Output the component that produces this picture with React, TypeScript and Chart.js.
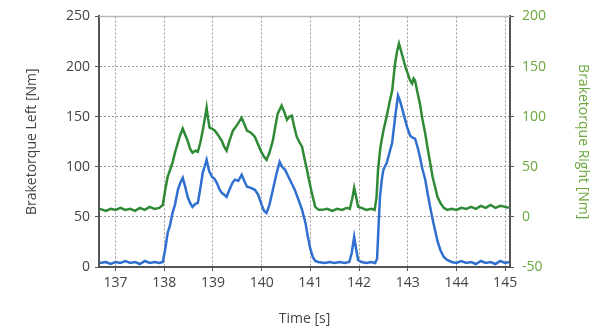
import React, { useEffect, useRef } from "react";
import { Chart, registerables } from "chart.js";

Chart.register(...registerables);

const xTicks = [137, 138, 139, 140, 141, 142, 143, 144, 145];

const leftTime = [
  136.68, 136.8, 136.9, 137.0, 137.1, 137.2, 137.3, 137.4, 137.5, 137.6, 137.7, 137.8, 137.9, 137.97,
  138.02, 138.07, 138.12, 138.17, 138.22, 138.28, 138.33, 138.38, 138.43, 138.48, 138.53, 138.58, 138.64, 138.69,
  138.74, 138.79, 138.84, 138.87, 138.92, 138.98, 139.03, 139.08, 139.13, 139.18, 139.23, 139.28, 139.33, 139.4,
  139.45, 139.52, 139.59, 139.65, 139.7, 139.78, 139.86, 139.93, 140.0, 140.05, 140.1, 140.16, 140.23, 140.3,
  140.37, 140.42, 140.48, 140.53, 140.58, 140.63, 140.68, 140.75, 140.83, 140.9, 140.95, 141.0, 141.05, 141.1,
  141.16, 141.3, 141.4, 141.5, 141.6, 141.7, 141.8, 141.85, 141.9, 141.94, 141.98, 142.05, 142.15, 142.25,
  142.33, 142.37, 142.4, 142.43, 142.47, 142.5, 142.57, 142.63, 142.68, 142.74, 142.8, 142.84, 142.88, 142.94,
  142.99, 143.05, 143.1, 143.15, 143.2, 143.25, 143.3, 143.36, 143.41, 143.46, 143.51, 143.56, 143.61, 143.67,
  143.74, 143.81, 143.9, 144.0, 144.1, 144.2, 144.3, 144.4, 144.5, 144.6, 144.7, 144.8, 144.9, 145.0, 145.08,
];
const leftTorque = [
  4, 5, 3, 5, 4, 6, 4, 5, 3, 6, 4, 5, 4, 5,
  18, 34, 42, 54, 62, 77, 84, 89, 80, 70, 64, 60, 63, 64,
  78, 94, 102, 107, 96, 90, 88, 84, 78, 74, 72, 70, 76, 84,
  87, 86, 92, 85, 80, 79, 77, 72, 62, 56, 54, 62, 77, 92,
  105, 100, 97, 92, 87, 82, 77, 68, 57, 44, 30, 18, 10, 6,
  5, 4, 5, 4, 5, 4, 5, 14, 30, 18, 7, 5, 4, 5,
  4, 8, 40, 70, 88, 97, 104, 115, 124, 149, 171, 166, 159, 148,
  139, 131, 129, 128, 120, 110, 98, 87, 73, 60, 48, 37, 26, 17,
  10, 7, 5, 4, 6, 4, 5, 3, 6, 4, 5, 3, 6, 4, 5,
];

const rightTime = [
  136.68, 136.8, 136.9, 137.0, 137.1, 137.2, 137.3, 137.4, 137.5, 137.6, 137.7, 137.8, 137.9, 137.97,
  138.02, 138.07, 138.12, 138.17, 138.22, 138.28, 138.33, 138.38, 138.43, 138.48, 138.53, 138.58, 138.64, 138.69,
  138.74, 138.79, 138.84, 138.87, 138.9, 138.93, 138.98, 139.04, 139.1, 139.18, 139.23, 139.28, 139.34, 139.41,
  139.5, 139.59, 139.65, 139.7, 139.78, 139.86, 139.93, 140.0, 140.05, 140.1, 140.16, 140.23, 140.28, 140.33,
  140.41, 140.47, 140.52, 140.57, 140.62, 140.67, 140.72, 140.78, 140.83, 140.88, 140.93, 140.98, 141.03, 141.1,
  141.17, 141.24, 141.35, 141.45, 141.55, 141.65, 141.75, 141.81, 141.86, 141.9, 141.94, 141.98, 142.05, 142.15,
  142.25, 142.32, 142.36, 142.39, 142.44, 142.5, 142.57, 142.63, 142.68, 142.74, 142.78, 142.82, 142.86, 142.9,
  142.95, 143.0, 143.05, 143.09, 143.12, 143.15, 143.2, 143.25, 143.3, 143.36, 143.41, 143.46, 143.51, 143.56,
  143.61, 143.67, 143.74, 143.81, 143.9, 144.0, 144.1, 144.2, 144.3, 144.4, 144.5, 144.6, 144.7, 144.8, 144.9,
  145.0, 145.08,
];
const rightTorque = [
  8, 6, 8, 7, 9, 7, 8, 6, 9, 7, 10, 8, 9, 12,
  27, 40, 47, 54, 64, 74, 82, 88, 82, 76, 68, 64, 66, 65,
  74, 86, 100, 109, 98, 89, 88, 86, 82, 76, 70, 66, 76, 86,
  92, 99, 92, 86, 84, 80, 72, 64, 60, 57, 64, 76, 90, 103,
  111, 104, 97, 100, 101, 90, 80, 74, 70, 58, 47, 35, 24, 10,
  7, 7, 8, 6, 8, 7, 9, 8, 18, 29, 20, 10, 9, 7,
  8, 7, 20, 47, 70, 86, 101, 115, 126, 153, 165, 173, 166, 159,
  150, 143, 136, 133, 138, 136, 124, 113, 98, 83, 68, 54, 40, 30,
  20, 14, 9, 7, 8, 7, 9, 8, 10, 8, 11, 9, 12, 9, 11,
  10, 9,
];

const FONT = "'Open Sans', 'Noto Sans', sans-serif";
const GREEN_TEXT = "#6aa83c";

const frameTop = {
  id: "frameTop",
  afterDatasetsDraw(chart: any) {
    const { ctx, chartArea } = chart;
    ctx.save();
    ctx.strokeStyle = "#b8b8b8";
    ctx.lineWidth = 1.5;
    ctx.beginPath();
    ctx.moveTo(chartArea.left, chartArea.top);
    ctx.lineTo(chartArea.right, chartArea.top);
    ctx.stroke();
    ctx.restore();
  },
};

export default function App() {
  const ref = useRef<HTMLCanvasElement | null>(null);
  useEffect(() => {
    document.body.style.margin = "0";
    const blue = leftTime.map((t, i) => ({ x: t, y: leftTorque[i] }));
    const green = rightTime.map((t, i) => ({ x: t, y: rightTorque[i] }));
    const chart = new Chart(ref.current as HTMLCanvasElement, {
      type: "line",
      data: {
        datasets: [
          {
            label: "Braketorque Right",
            data: green,
            yAxisID: "y2",
            borderColor: "#2f8a36",
            borderWidth: 2.5,
            pointRadius: 0,
            tension: 0,
          },
          {
            label: "Braketorque Left",
            data: blue,
            yAxisID: "y",
            borderColor: "#2f6fcf",
            borderWidth: 2.5,
            pointRadius: 0,
            tension: 0,
          },
        ],
      },
      options: {
        animation: false,
        responsive: false,
        maintainAspectRatio: false,
        layout: { padding: { top: 16, left: 0, right: 0, bottom: 0 } },
        plugins: { legend: { display: false }, tooltip: { enabled: false } },
        scales: {
          x: {
            type: "linear",
            min: 136.66,
            max: 145.1,
            afterBuildTicks: (s: any) => {
              s.ticks = xTicks.map((v) => ({ value: v }));
            },
            afterFit: (s: any) => {
              s.height = 61;
            },
            ticks: { color: "#444", font: { family: FONT, size: 14 }, padding: 4, maxRotation: 0 },
            grid: { color: "#9a9a9a", lineWidth: 1, tickLength: 4, tickColor: "#555" },
            border: { color: "#555", width: 2, dash: [2, 2] },
            title: {
              display: true,
              text: "Time [s]",
              color: "#444",
              font: { family: FONT, size: 14 },
              padding: { top: 0, bottom: 1 },
            },
          },
          y: {
            position: "left",
            min: 0,
            max: 250,
            afterBuildTicks: (s: any) => {
              s.ticks = [0, 50, 100, 150, 200, 250].map((v) => ({ value: v }));
            },
            afterFit: (s: any) => {
              s.width = 99;
            },
            ticks: { color: "#444", font: { family: FONT, size: 14 }, padding: 5 },
            grid: { color: "#9a9a9a", lineWidth: 1, tickLength: 4, tickColor: "#555" },
            border: { color: "#555", width: 2, dash: [2, 2] },
            title: {
              display: true,
              text: "Braketorque Left [Nm]",
              color: "#444",
              font: { family: FONT, size: 14 },
              padding: { top: 24, bottom: 0 },
            },
          },
          y2: {
            position: "right",
            min: -50,
            max: 200,
            afterBuildTicks: (s: any) => {
              s.ticks = [-50, 0, 50, 100, 150, 200].map((v) => ({ value: v }));
            },
            afterFit: (s: any) => {
              s.width = 95;
            },
            ticks: { color: GREEN_TEXT, font: { family: FONT, size: 14 }, padding: 8 },
            grid: { drawOnChartArea: false, tickLength: 4, tickColor: "#555" },
            border: { color: "#555", width: 2 },
            title: {
              display: true,
              text: "Braketorque Right [Nm]",
              color: GREEN_TEXT,
              font: { family: FONT, size: 14 },
              padding: { top: 14, bottom: 0 },
            },
          },
        },
      },
      plugins: [frameTop],
    } as any);
    return () => chart.destroy();
  }, []);
  return (
    <div style={{ position: "absolute", left: 0, top: 0, width: 605, height: 328 }}>
      <canvas ref={ref} width={605} height={328} style={{ width: 605, height: 328 }} />
    </div>
  );
}
